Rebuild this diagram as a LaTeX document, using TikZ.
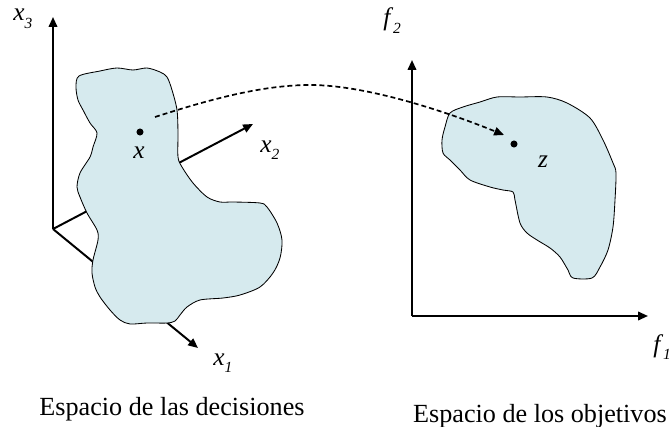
\documentclass[tikz,border=0pt]{standalone}
\usepackage{fontspec}
\setmainfont{Liberation Serif}
\usetikzlibrary{arrows.meta}
\definecolor{regionfill}{RGB}{214,234,238}
\newcommand{\axlabel}[2]{\textit{#1}\raisebox{-5pt}{\fontsize{11}{12}\selectfont\textit{#2}}}

\begin{document}
\begin{tikzpicture}[x=0.025cm, y=-0.025cm,
    axis/.style={-{Triangle[length=7pt,width=6pt]}, line width=1.4pt},
    region/.style={draw=black, line width=0.6pt, fill=regionfill},
    point/.style={circle, fill=black, inner sep=0pt, minimum size=5pt},
    lbl/.style={inner sep=0pt, font=\fontsize{18}{20}\selectfont},
    caption/.style={inner sep=0pt, font=\fontsize{18.6}{22}\selectfont}]
    \useasboundingbox (0,0) rectangle (671,427);

    % Decision space: axes x1, x2, x3 from a common origin
    \coordinate (origdec) at (53,229);
    \coordinate (tipxone) at (198,348);
    \coordinate (tipxtwo) at (253,124);
    \coordinate (tipxthree) at (53,17);
    \draw[axis] (origdec) -- (tipxthree);
    \draw[axis] (origdec) -- (tipxtwo);
    \draw[axis] (origdec) -- (tipxone);

    % Feasible region in decision space (hides part of the axes)
    \draw[region] plot[smooth cycle, tension=0.5] coordinates {
        (79,76) (100,71) (117,68) (133,70) (147,68) (160,72) (167,77)
        (172,90) (177,110) (178,133) (178,157) (182,167) (193,183)
        (207,197) (220,202) (233,202) (260,203) (267,207) (277,223)
        (282,240) (280,258) (273,273) (260,287) (240,295) (223,298)
        (200,300) (187,307) (180,315) (175,321) (167,323) (147,323)
        (130,324) (120,320) (110,310) (100,297) (95,287) (92,273)
        (93,260) (98,240) (97,230) (87,213) (80,197) (77,187) (80,173)
        (90,157) (93,147) (97,133) (90,123) (83,110) (78,100) (76,87)};

    % Objective space: axes f1, f2
    \coordinate (origobj) at (412,316);
    \coordinate (tipfone) at (648,316);
    \coordinate (tipftwo) at (412,60);
    \draw[axis] (origobj) -- (tipftwo);
    \draw[axis] (origobj) -- (tipfone);

    % Image of the region in objective space
    \draw[region] plot[smooth cycle, tension=0.5] coordinates {
        (450,113) (463,107) (480,102) (497,97) (520,97) (547,97)
        (567,103) (590,118) (603,140) (613,163) (616,173) (615,200)
        (613,227) (608,250) (600,267) (592,278) (573,278) (568,270)
        (560,257) (550,248) (537,240) (527,233) (520,223) (515,200)
        (513,192) (503,190) (490,187) (470,180) (460,170) (450,160)
        (443,153) (442,140) (445,127)};

    % Points x and z
    \node[point] (px) at (140,132) {};
    \node[lbl, anchor=base] (lblx) at (139,158) {\textit{x}};
    \node[point] (pz) at (514,144) {};
    \node[lbl, anchor=base] (lblz) at (543,167) {\textit{z}};

    % Axis labels
    \node[lbl, anchor=base west] (lblxthree) at (13,21) {\axlabel{x}{3}};
    \node[lbl, anchor=base west] (lblxtwo) at (260,152) {\axlabel{x}{2}};
    \node[lbl, anchor=base west] (lblxone) at (213,365) {\axlabel{x}{1}};
    \node[lbl, anchor=base west] (lblftwo) at (383,26) {\axlabel{f}{2}};
    \node[lbl, anchor=base west] (lblfone) at (653,352) {\axlabel{f}{1}};

    % Mapping from x to z
    \coordinate (mapstart) at (155,117);
    \coordinate (mapend) at (504,135);
    \draw[-{Triangle[length=7pt,width=6pt]}, line width=1.2pt,
        dash pattern=on 3.5pt off 2.2pt]
        (mapstart) .. controls (205,101) and (260,85) .. (310,85)
        .. controls (370,85) and (455,115) .. (mapend);

    % Captions
    \node[caption, anchor=base] (capdec) at (172,415) {Espacio de las decisiones};
    \node[caption, anchor=base] (capobj) at (540,422) {Espacio de los objetivos};
\end{tikzpicture}
\end{document}
